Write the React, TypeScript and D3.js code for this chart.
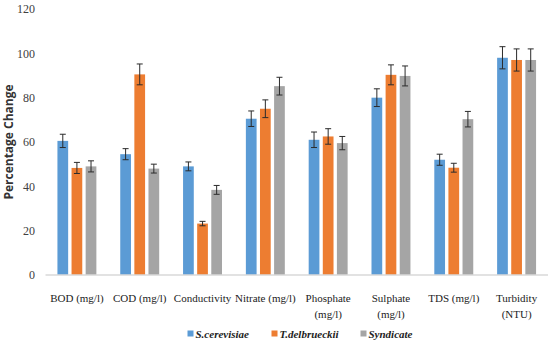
import * as d3 from "d3";

const categories = [
  ["BOD (mg/l)"],
  ["COD (mg/l)"],
  ["Conductivity"],
  ["Nitrate (mg/l)"],
  ["Phosphate", "(mg/l)"],
  ["Sulphate", "(mg/l)"],
  ["TDS (mg/l)"],
  ["Turbidity", "(NTU)"],
];
const seriesNames = ["S.cerevisiae", "T.delbrueckii", "Syndicate"];
const colors = ["#5B9BD5", "#ED7D31", "#A5A5A5"];

const cerevisiae = [60.5, 54.5, 49, 70.5, 61, 80, 52, 98];
const delbrueckii = [48.3, 90.5, 23.2, 75, 62.5, 90.3, 48.4, 97];
const syndicate = [49, 48, 38.4, 85.2, 59.5, 89.8, 70.3, 97];
const cerevisiaeErr = [3, 2.5, 2, 3.5, 3.5, 4, 2.5, 5];
const delbrueckiiErr = [2.5, 4.7, 1, 4, 3.5, 4.5, 2, 5];
const syndicateErr = [2.5, 2, 2, 4, 3, 4.5, 3.5, 5];
const yTicks = [0, 20, 40, 60, 80, 100, 120];

const values = [cerevisiae, delbrueckii, syndicate];
const errors = [cerevisiaeErr, delbrueckiiErr, syndicateErr];

const W = 550;
const H = 346;
const margin = { top: 9, right: 2, bottom: 71, left: 45.5 };
const serif = { fontFamily: "Liberation Serif, Times New Roman, serif" };

export default function App() {
  const x = d3
    .scaleBand<number>()
    .domain(categories.map((_, i) => i))
    .range([margin.left, W - margin.right])
    .paddingInner(0.38)
    .paddingOuter(0.19);
  const xs = d3
    .scaleBand<number>()
    .domain([0, 1, 2])
    .range([0, x.bandwidth()])
    .paddingInner(0.24);
  const y = d3.scaleLinear().domain([0, 120]).range([H - margin.bottom, margin.top]);

  const legendX = [187.5, 271.5, 360.5];

  return (
    <svg
      width={W}
      height={H}
      style={{ position: "absolute", left: 0, top: 0, background: "#fff" }}
    >
      {/* y tick labels */}
      {yTicks.map((t) => (
        <text
          key={t}
          x={35}
          y={y(t)}
          dy="0.35em"
          textAnchor="end"
          style={serif}
          fontSize={12}
          fill="#404040"
        >
          {t}
        </text>
      ))}
      <text
        transform={`translate(9,${y(60)}) rotate(-90)`}
        textAnchor="middle"
        dy="0.35em"
        style={{ fontFamily: "Open Sans, Liberation Sans, sans-serif" }}
        fontWeight="bold"
        fontSize={12}
        fill="#333"
      >
        Percentage Change
      </text>

      {/* bars */}
      {values.map((vals, s) =>
        vals.map((v, i) => (
          <rect
            key={`b${s}-${i}`}
            x={(x(i) ?? 0) + (xs(s) ?? 0)}
            y={y(v)}
            width={xs.bandwidth()}
            height={y(0) - y(v)}
            fill={colors[s]}
          />
        ))
      )}

      {/* error bars */}
      {values.map((vals, s) =>
        vals.map((v, i) => {
          const cx = (x(i) ?? 0) + (xs(s) ?? 0) + xs.bandwidth() / 2;
          const e = errors[s][i];
          return (
            <g key={`e${s}-${i}`} stroke="#2b2b2b" strokeWidth={1}>
              <line x1={cx} x2={cx} y1={y(v + e)} y2={y(v - e)} />
              <line x1={cx - 3} x2={cx + 3} y1={y(v + e)} y2={y(v + e)} />
              <line x1={cx - 3} x2={cx + 3} y1={y(v - e)} y2={y(v - e)} />
            </g>
          );
        })
      )}

      {/* x axis line */}
      <line
        x1={margin.left}
        x2={W - margin.right}
        y1={y(0)}
        y2={y(0)}
        stroke="#d9d9d9"
        strokeWidth={1.5}
      />

      {/* category labels */}
      {categories.map((lines, i) => (
        <text
          key={`c${i}`}
          x={(x(i) ?? 0) + x.bandwidth() / 2}
          y={298}
          textAnchor="middle"
          style={serif}
          fontSize={11}
          fill="#222"
        >
          {lines.map((l, k) => (
            <tspan key={k} x={(x(i) ?? 0) + x.bandwidth() / 2} dy={k === 0 ? "0.35em" : 16}>
              {l}
            </tspan>
          ))}
        </text>
      ))}

      {/* legend */}
      {seriesNames.map((n, s) => (
        <g key={n}>
          <rect x={legendX[s]} y={330.5} width={6} height={6} fill={colors[s]} />
          <text
            x={legendX[s] + 8}
            y={334}
            dy="0.35em"
            style={serif}
            fontStyle="italic"
            fontWeight="bold"
            fontSize={11}
            fill="#222"
          >
            {n}
          </text>
        </g>
      ))}
    </svg>
  );
}
